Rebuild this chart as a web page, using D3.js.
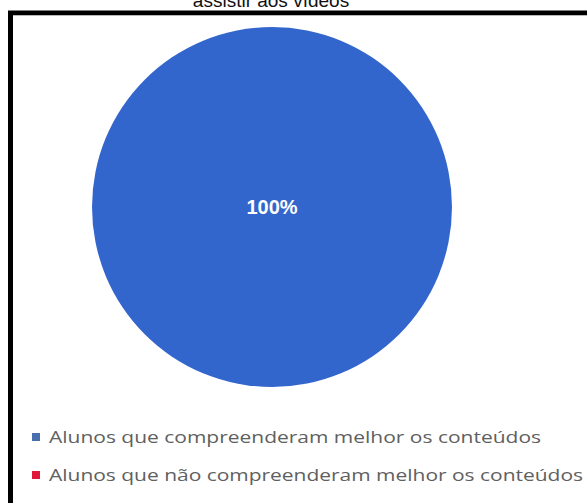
<!DOCTYPE html>
<html>
<head>
<meta charset="utf-8">
<script src="https://cdn.jsdelivr.net/npm/d3@7"></script>
<style>
  html, body { margin: 0; padding: 0; background: #fff; overflow: hidden; }
  svg { display: block; }
</style>
</head>
<body>
<svg id="chart" width="587" height="503"></svg>
<script>
// Survey answers: share of students after watching the videos
const categories = [
  "Alunos que compreenderam melhor os conteúdos",
  "Alunos que não compreenderam melhor os conteúdos"
];
const values = [100, 0];
const colors = ["#3366cc", "#e0183a"];
const titleText = "assistir aos vídeos";

const svg = d3.select("#chart");
const W = 587, H = 503;

// Title (its upper line sits above the frame)
svg.append("text")
  .attr("x", 271)
  .attr("y", 7)
  .attr("text-anchor", "middle")
  .attr("font-family", "Liberation Sans, Arial, sans-serif")
  .attr("font-size", 19)
  .attr("fill", "#111")
  .text(titleText);

// Frame around the chart
svg.append("rect")
  .attr("x", 10.5)
  .attr("y", 13)
  .attr("width", 640)
  .attr("height", 600)
  .attr("fill", "none")
  .attr("stroke", "#000")
  .attr("stroke-width", 5);
svg.append("line")
  .attr("x1", 13).attr("x2", W)
  .attr("y1", 15.5).attr("y2", 15.5)
  .attr("stroke", "#bbb").attr("stroke-width", 1);

// Pie
const cx = 272, cy = 207, r = 180;
const pie = d3.pie().sort(null).value(d => d)(values);
const arc = d3.arc().innerRadius(0).outerRadius(r);
const g = svg.append("g").attr("transform", `translate(${cx},${cy})`);
g.selectAll("path")
  .data(pie.filter(d => d.value > 0))
  .join("path")
  .attr("d", arc)
  .attr("fill", (d) => colors[d.index]);

// Slice labels
const total = d3.sum(values);
const full = d => d.endAngle - d.startAngle >= 2 * Math.PI - 1e-6;
g.selectAll("text.pct")
  .data(pie.filter(d => d.value > 0))
  .join("text")
  .attr("class", "pct")
  .attr("x", d => full(d) ? 0 : arc.centroid(d)[0])
  .attr("y", d => (full(d) ? 0 : arc.centroid(d)[1]) + 7)
  .attr("text-anchor", "middle")
  .attr("font-family", "Liberation Sans, Arial, sans-serif")
  .attr("font-weight", "bold")
  .attr("font-size", 20)
  .attr("fill", "#fff")
  .text(d => d3.format(".0%")(d.value / total));

// Legend
const legendY = d3.scalePoint().domain(categories).range([437, 475]);
const textLens = [492, 534];
const leg = svg.append("g");
const items = leg.selectAll("g")
  .data(categories)
  .join("g")
  .attr("transform", d => `translate(0,${legendY(d)})`);
items.append("rect")
  .attr("x", 32).attr("y", -4)
  .attr("width", 8).attr("height", 8)
  .attr("fill", (d, i) => i === 0 ? "#4a6fae" : colors[i]);
items.append("text")
  .attr("x", 49)
  .attr("y", 5.5)
  .attr("font-family", "Open Sans, sans-serif")
  .attr("font-size", 16)
  .attr("fill", "#606060")
  .attr("textLength", (d, i) => textLens[i])
  .attr("lengthAdjust", "spacingAndGlyphs")
  .text(d => d);
</script>
</body>
</html>
